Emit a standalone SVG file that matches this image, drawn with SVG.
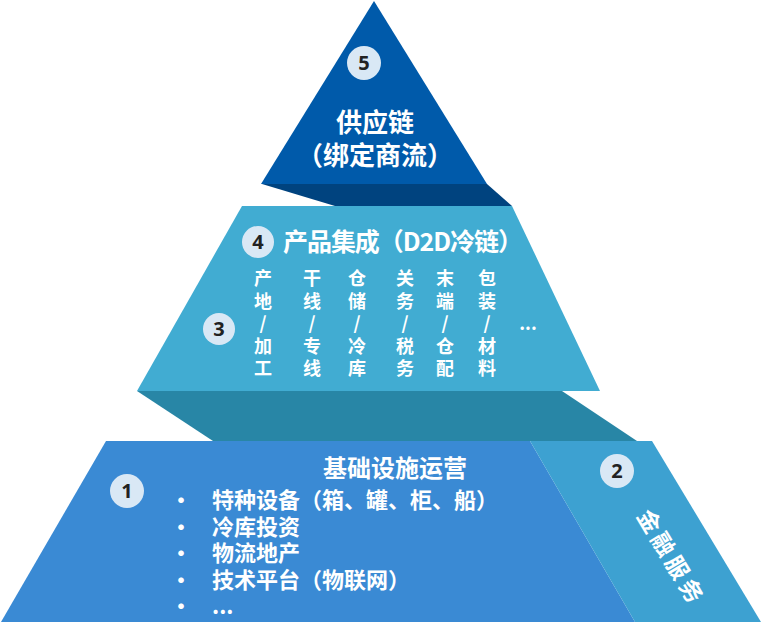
<svg xmlns="http://www.w3.org/2000/svg" width="761" height="633" viewBox="0 0 761 633">
<style>
text{font-family:"Noto Sans CJK SC","Noto Sans",sans-serif;font-weight:bold;fill:#fff}
.num{font-family:"Noto Sans","Open Sans",sans-serif;font-size:20px;fill:#222;text-anchor:middle}
.badge{fill:#D9E8F5}
.col{font-size:18px;text-anchor:middle}
</style>
<rect width="761" height="633" fill="#fff"/>
<g id="level5">
<polygon points="262,184 487,184 512,206 335,206" fill="#00437F"/>
<polygon points="374,1 261,184 487,184" fill="#005AAA"/>
<circle class="badge" cx="364" cy="63" r="17"/>
<text class="num" x="364" y="70">5</text>
<text x="375" y="132" font-size="26" text-anchor="middle">供应链</text>
<text x="375" y="165" font-size="26" text-anchor="middle">（绑定商流）</text>
</g>
<g id="level3-4">
<polygon points="137,391 562,391 637,441 213,441" fill="#2886A6"/>
<polygon points="242,206 512,206 600,391 137,391" fill="#41ACD2"/>
<circle class="badge" cx="258" cy="242" r="16"/>
<text class="num" x="258" y="249">4</text>
<text x="283" y="251" font-size="25" textLength="240" lengthAdjust="spacing">产品集成（D2D冷链）</text>
<circle class="badge" cx="219" cy="329" r="16"/>
<text class="num" x="219" y="336">3</text>
<g class="col">
<text x="263" y="285">产</text><text x="263" y="307.5">地</text><text x="263" y="330">/</text><text x="263" y="352.5">加</text><text x="263" y="375">工</text>
<text x="312" y="285">干</text><text x="312" y="307.5">线</text><text x="312" y="330">/</text><text x="312" y="352.5">专</text><text x="312" y="375">线</text>
<text x="357" y="285">仓</text><text x="357" y="307.5">储</text><text x="357" y="330">/</text><text x="357" y="352.5">冷</text><text x="357" y="375">库</text>
<text x="405" y="285">关</text><text x="405" y="307.5">务</text><text x="405" y="330">/</text><text x="405" y="352.5">税</text><text x="405" y="375">务</text>
<text x="445" y="285">末</text><text x="445" y="307.5">端</text><text x="445" y="330">/</text><text x="445" y="352.5">仓</text><text x="445" y="375">配</text>
<text x="487" y="285">包</text><text x="487" y="307.5">装</text><text x="487" y="330">/</text><text x="487" y="352.5">材</text><text x="487" y="375">料</text>
<text x="528" y="330">...</text>
</g>
</g>
<g id="level1">
<polygon points="106,441 530,441 635,622 1,622" fill="#3A8AD4"/>
<circle class="badge" cx="127" cy="491" r="17"/>
<text class="num" x="127" y="498">1</text>
<text x="395" y="477" font-size="24" text-anchor="middle">基础设施运营</text>
<g font-size="22">
<text x="170" y="508">•</text>
<text x="212" y="508">特种设备（箱、罐、柜、船）</text>
<text x="170" y="535">•</text>
<text x="212" y="535">冷库投资</text>
<text x="170" y="561">•</text>
<text x="212" y="561">物流地产</text>
<text x="170" y="588">•</text>
<text x="212" y="588">技术平台（物联网）</text>
<text x="170" y="614">•</text>
<text x="212" y="614">...</text>
</g>
</g>
<g id="level2">
<polygon points="530,441 652,441 761,622 635,622" fill="#3DA1D1"/>
<circle class="badge" cx="617" cy="471" r="17"/>
<text class="num" x="617" y="478">2</text>
<text x="0" y="0" font-size="23" letter-spacing="4" text-anchor="middle" transform="translate(664,562) rotate(59)">金融服务</text>
</g>
<g id="connectors"></g>
</svg>
